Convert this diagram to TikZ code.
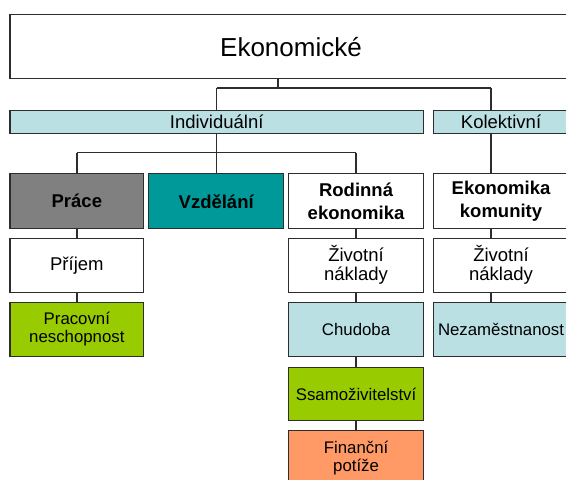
\documentclass[tikz,border=0pt]{standalone}
\usepackage{fontspec}
\setmainfont{Liberation Sans}
\definecolor{bordercol}{RGB}{45,45,45}
\definecolor{lightblue}{RGB}{187,224,228}
\definecolor{pracegray}{RGB}{128,128,128}
\definecolor{teal2}{RGB}{0,153,153}
\definecolor{limegreen}{RGB}{153,204,0}
\definecolor{salmon}{RGB}{255,153,102}
\tikzset{
  box/.style={draw=bordercol, line width=1.4pt, inner sep=0pt, align=center, anchor=north west},
  big/.style={font=\fontsize{26}{30}\selectfont},
  mid/.style={font=\fontsize{18.5}{19}\selectfont},
  midbold/.style={font=\fontsize{18.5}{23}\selectfont\bfseries},
  small/.style={font=\fontsize{16.8}{18}\selectfont},
  conn/.style={draw=bordercol, line width=1.3pt}
}
\begin{document}
\begin{tikzpicture}[x=1pt,y=-1pt]
\useasboundingbox (0,0) rectangle (566,480);
\clip (0,0) rectangle (566,480);
\fill[white] (0,0) rectangle (566,480);

% top
\node[box, big, fill=white, minimum width=562pt, minimum height=64pt] (top) at (9.3,14) {Ekonomické};

% row 1
\node[box, mid, fill=lightblue, minimum width=413.4pt, minimum height=23pt] (ind) at (9.3,110) {Individuální};
\node[box, mid, fill=lightblue, minimum width=135.3pt, minimum height=23pt] (kol) at (432.7,110) {Kolektivní};

% row 2
\node[box, midbold, fill=pracegray, minimum width=133.7pt, minimum height=55pt] (prace) at (9.3,173) {Práce};
\node[box, midbold, fill=teal2, minimum width=135pt, minimum height=55pt] (vzd) at (148,173) {Vzdělání};
\node[box, midbold, fill=white, minimum width=134.7pt, minimum height=55pt] (rod) at (288,173) {Rodinná\\ekonomika};
\node[box, midbold, fill=white, minimum width=135.3pt, minimum height=55pt] (kom) at (432.7,173) {Ekonomika\\komunity};

% row 3
\node[box, mid, fill=white, minimum width=133.7pt, minimum height=54pt] (prijem) at (9.3,237.5) {Příjem};
\node[box, mid, fill=white, minimum width=134.7pt, minimum height=54pt] (zivA) at (288,237.5) {Životní\\náklady};
\node[box, mid, fill=white, minimum width=135.3pt, minimum height=54pt] (zivB) at (432.7,237.5) {Životní\\náklady};

% row 4
\node[box, small, fill=limegreen, minimum width=133.7pt, minimum height=53.5pt] (prac) at (9.3,302) {Pracovní\\neschopnost};
\node[box, small, fill=lightblue, minimum width=134.7pt, minimum height=53.5pt] (chud) at (288,302) {Chudoba};
\node[box, small, fill=lightblue, minimum width=135.3pt, minimum height=53.5pt] (nez) at (432.7,302) {Nezaměstnanost};

% row 5, 6
\node[box, small, fill=limegreen, minimum width=134.7pt, minimum height=53.5pt] (ssam) at (288,366.5) {Ssamoživitelství};
\node[box, small, fill=salmon, minimum width=134.7pt, minimum height=54pt] (fin) at (288,430) {Finanční\\potíže};

% connector guide coordinates
\coordinate (xtop) at (278,0);
\coordinate (xkol) at (491,0);
\coordinate (y1) at (0,88);
\coordinate (y2) at (0,152.7);

% top -> row 1
\draw[conn] (top.south -| xtop) -- (y1 -| xtop);
\draw[conn] (ind.north |- y1) -- (y1 -| xkol);
\draw[conn] (ind.north |- y1) -- (ind.north);
\draw[conn] (kol.north -| xkol) -- (y1 -| xkol);

% individual -> row 2
\draw[conn] (ind.south -| vzd.north) -- (vzd.north);
\draw[conn] (prace.north |- y2) -- (rod.north |- y2);
\draw[conn] (prace.north |- y2) -- (prace.north);
\draw[conn] (rod.north |- y2) -- (rod.north);

% kolektivni -> komunity
\draw[conn] (kol.south -| xkol) -- (kom.north -| xkol);

% column 1
\draw[conn] (prace.south) -- (prijem.north);
\draw[conn] (prijem.south) -- (prac.north);

% column 3
\draw[conn] (rod.south) -- (zivA.north);
\draw[conn] (zivA.south) -- (chud.north);
\draw[conn] (chud.south) -- (ssam.north);
\draw[conn] (ssam.south) -- (fin.north);

% column 4
\draw[conn] (kom.south -| xkol) -- (zivB.north -| xkol);
\draw[conn] (zivB.south -| xkol) -- (nez.north -| xkol);
\end{tikzpicture}
\end{document}
